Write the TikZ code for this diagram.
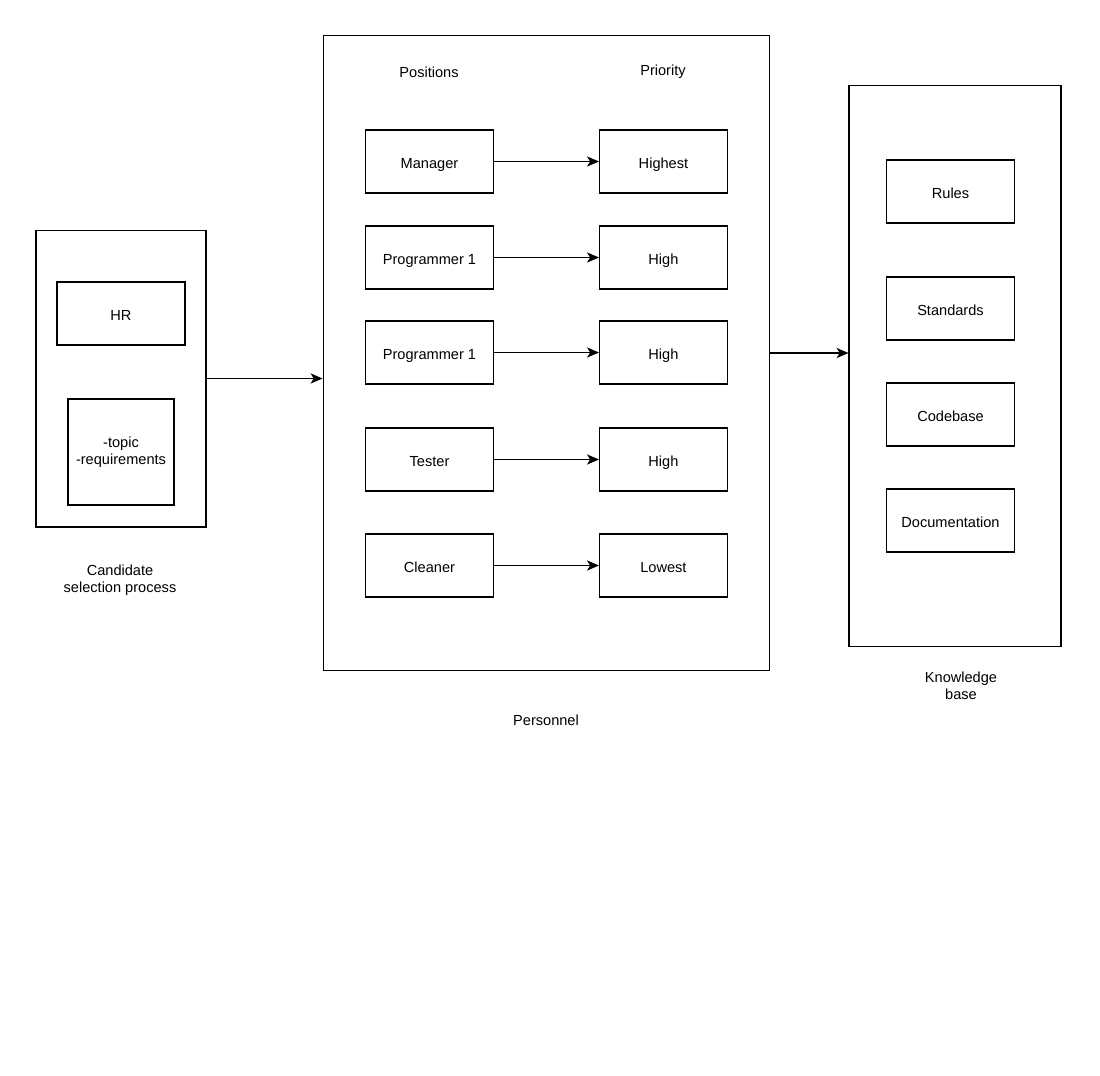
\documentclass[tikz,border=0pt]{standalone}
\usepackage{fontspec}
\setmainfont{Liberation Sans}
\usepackage{tikz}
\usetikzlibrary{arrows.meta, positioning}

\begin{document}
\begin{tikzpicture}[x=0.02cm,y=-0.02cm,node distance=4.68cm,
    >={Stealth[length=6.8pt,width=5.8pt,inset=1.8pt]},line width=0.6pt]
  \tikzstyle{every node}=[font=\fontsize{8.3}{9.7}\selectfont]
  \tikzstyle{item}=[draw, minimum width=2.56cm, minimum height=1.26cm, inner sep=0pt,
                    text height=1.6ex, text depth=0.2ex]
  \tikzstyle{frame}=[draw, inner sep=0pt]
  \tikzstyle{caption}=[align=center]

  \useasboundingbox (0,0) rectangle (1100,1076);

  % outer frames
  \node[frame, minimum width=3.4cm,  minimum height=5.94cm]  (cand) at (121,378.5) {};
  \node[frame, minimum width=8.94cm, minimum height=12.72cm] (pers) at (546.5,353) {};
  \node[frame, minimum width=4.24cm, minimum height=11.24cm] (know) at (955,366)   {};

  % candidate selection
  \node[item]                                           (hr)    at (121,313.5) {HR};
  \node[draw, minimum width=2.12cm, minimum height=2.12cm, inner sep=0pt, align=center]
                                                         (topic) at (121,452)   {-topic\\-requirements};
  \node[caption] (cand_lbl) at (120,580) {Candidate\\selection process};

  % personnel
  \node (pos_lbl) at (429,72) {Positions};
  \node (pri_lbl) at (663,72) {Priority};

  \node[item]           (p_1) at (429.5,161.5) {Manager};
  \node[item]           (p_2) at (429.5,257.5) {Programmer 1};
  \node[item]           (p_3) at (429.5,352.5) {Programmer 1};
  \node[item]           (p_4) at (429.5,459.5) {Tester};
  \node[item]           (p_5) at (429.5,565.5) {Cleaner};

  \node[item] (r_1) [right of=p_1] {Highest};
  \node[item] (r_2) [right of=p_2] {High};
  \node[item] (r_3) [right of=p_3] {High};
  \node[item] (r_4) [right of=p_4] {High};
  \node[item] (r_5) [right of=p_5] {Lowest};

  \node (pers_lbl) at (546,720) {Personnel};

  % knowledge base
  \node[item] (k_1) at (950.5,191.5) {Rules};
  \node[item] (k_2) at (950.5,308.5) {Standards};
  \node[item] (k_3) at (950.5,414.5) {Codebase};
  \node[item] (k_4) at (950.5,520.5) {Documentation};
  \node[caption] (know_lbl) at (961,686) {Knowledge\\base};

  \path[->]
  (p_1) edge (r_1)
  (p_2) edge (r_2)
  (p_3) edge (r_3)
  (p_4) edge (r_4)
  (p_5) edge (r_5)
  ;

  \draw[->] (cand.east) -- (cand.east -| pers.west);
  \draw[->] (pers.east) -- (pers.east -| know.west);
\end{tikzpicture}
\end{document}
